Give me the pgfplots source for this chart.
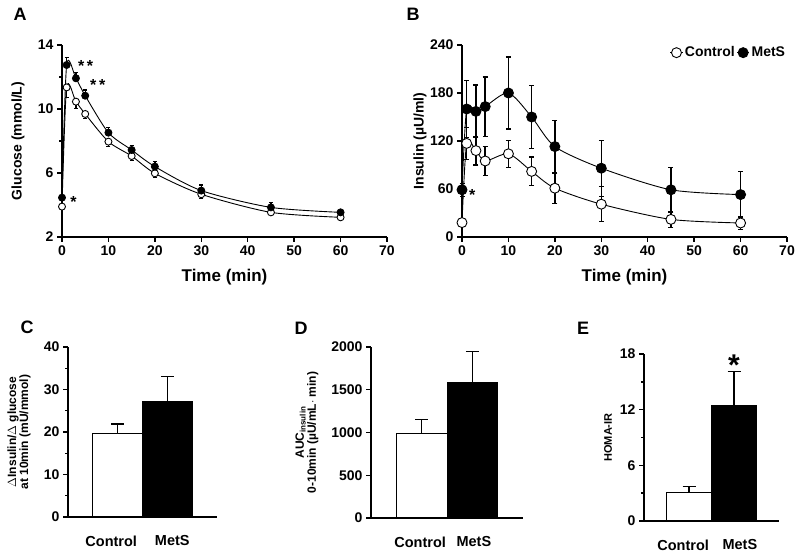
\documentclass[border=0pt]{standalone}
\usepackage{fontspec}
\setmainfont{Liberation Sans}
\usepackage{pgfplots}
\pgfplotsset{compat=1.18}

\newcommand\fs[1]{\fontsize{#1}{#1}\selectfont\bfseries}

\pgfplotsset{
  panel/.style={
    scale only axis,
    axis lines*=left,
    axis line style={line width=1.6pt},
    tick align=outside,
    major tick length=5pt,
    minor tick length=3pt,
    every tick/.style={black, line width=1.4pt},
    /pgf/number format/assume math mode=true,
    /pgf/number format/1000 sep={},
    ticklabel style={font=\fs{14}},
    clip=false,
  },
  curve/.style={black, line width=0.9pt, smooth, tension=0.45, mark=*},
  barpanel/.style={
    panel,
    xmin=0, xmax=3, ymin=0,
    xticklabels={Control, MetS},
    major x tick style={draw=none},
    xticklabel style={font=\fs{14.5}, yshift=-10pt},
    ybar, bar width=1, bar shift=0pt,
    axis line style={line width=1.2pt},
  },
  bardraw/.style={draw=black, line width=1pt,
    error bars/.cd, y dir=plus, y explicit,
    error bar style={line width=1.2pt},
    error mark options={rotate=90, mark size=6.5pt, line width=1.2pt}},
}

\begin{document}
\begin{tikzpicture}
\path[use as bounding box] (0pt,0pt) rectangle (800pt,553pt);

% panel letters
\node[font=\fs{18}] at (20pt,539pt) {A};
\node[font=\fs{18}] at (413pt,539pt) {B};
\node[font=\fs{18}] at (27pt,226pt) {C};
\node[font=\fs{18}] at (301pt,225pt) {D};
\node[font=\fs{18}] at (583pt,225pt) {E};

% A: glucose
\begin{axis}[panel, at={(62pt,316pt)}, anchor=south west,
  width=325pt, height=192pt,
  xmin=0, xmax=70, ymin=2, ymax=14,
  xtick={0,10,...,70}, ytick={2,6,10,14}, minor ytick={4,8,12},
  xlabel={Time (min)}, ylabel={Glucose (mmol/L)},
  xlabel style={font=\fs{17}, at={(axis description cs:0.5,0)}, anchor=center, yshift=-40pt},
  ylabel style={font=\fs{14}, at={(axis description cs:0,0.5)}, anchor=center, yshift=44pt},
]
\addplot[curve, mark size=3.5pt, mark options={fill=white, line width=0.9pt},
  error bars/.cd, y dir=minus, y explicit, error bar style={line width=1.3pt},
  error mark options={rotate=90, mark size=2pt, line width=1.2pt}]
  coordinates {(0,3.90) +- (0,0.10) (1,11.35) +- (0,0.62) (3,10.46) +- (0,0.42)
  (5,9.69) +- (0,0.27) (10,7.96) +- (0,0.30) (15,7.06) +- (0,0.30) (20,5.98) +- (0,0.25)
  (30,4.67) +- (0,0.25) (45,3.54) +- (0,0.15) (60,3.23) +- (0,0.10)};
\addplot[curve, mark size=3.5pt, mark options={fill=black},
  error bars/.cd, y dir=plus, y explicit, error bar style={line width=1.3pt},
  error mark options={rotate=90, mark size=2pt, line width=1.2pt}]
  coordinates {(0,4.46) +- (0,0.10) (1,12.75) +- (0,0.48) (3,11.92) +- (0,0.35)
  (5,10.83) +- (0,0.36) (10,8.52) +- (0,0.33) (15,7.44) +- (0,0.27) (20,6.40) +- (0,0.33)
  (30,4.90) +- (0,0.35) (45,3.85) +- (0,0.30) (60,3.54) +- (0,0.10)};
\node[font=\fs{16}] at (axis cs:5.1,12.7) {*\,*};
\node[font=\fs{16}] at (axis cs:7.7,11.5) {*\,*};
\node[font=\fs{16}] at (axis cs:2.5,4.2) {*};
\end{axis}

% B: insulin
\begin{axis}[panel, at={(462pt,316pt)}, anchor=south west,
  width=325pt, height=192pt,
  xmin=0, xmax=70, ymin=0, ymax=240,
  xtick={0,10,...,70}, ytick={0,60,...,240},
  xlabel={Time (min)}, ylabel={Insulin (µU/ml)},
  xlabel style={font=\fs{17}, at={(axis description cs:0.5,0)}, anchor=center, yshift=-40pt},
  ylabel style={font=\fs{14}, at={(axis description cs:0,0.5)}, anchor=center, yshift=42pt},
  legend style={at={(1.01,0.96)}, anchor=east, draw=none, fill=none,
    legend columns=2, font=\fs{14},
    /tikz/every even column/.style={column sep=0pt}},
  legend image code/.code={\draw[#1, mark repeat=2, mark phase=2]
    plot coordinates {(0pt,0pt) (6pt,0pt) (12pt,0pt)};},
]
\addplot[curve, mark size=5pt, mark options={fill=white, line width=0.9pt},
  error bars/.cd, y dir=both, y explicit, error bar style={line width=1.5pt},
  error mark options={rotate=90, mark size=2.5pt, line width=1.2pt}]
  coordinates {(0,18) +- (0,4) (1,117) +- (0,20) (3,108) +- (0,18)
  (5,95) +- (0,18) (10,104) +- (0,17) (15,82) +- (0,18) (20,61) +- (0,19)
  (30,41) +- (0,22) (45,22) +- (0,10) (60,17.5) +- (0,8)};
\addplot[curve, mark size=5pt, mark options={fill=black},
  error bars/.cd, y dir=both, y explicit, error bar style={line width=1.5pt},
  error mark options={rotate=90, mark size=2.5pt, line width=1.2pt}]
  coordinates {(0,59) +- (0,8) (1,160) +- (0,36) (3,157) +- (0,33)
  (5,163) +- (0,37) (10,180) +- (0,45) (15,150) +- (0,39) (20,113) +- (0,33)
  (30,86) +- (0,35) (45,59) +- (0,28) (60,53) +- (0,29)};
\legend{Control, MetS}
\node[font=\fs{16}] at (axis cs:2.2,53) {*};
\end{axis}

% C
\begin{axis}[barpanel, at={(68pt,36pt)}, anchor=south west,
  width=149pt, height=170pt, ymax=40, xtick={0.87,2.1},
  ytick={0,10,...,40}, minor ytick={5,15,25,35},
  ylabel={$\Delta$Insulin/$\Delta$ glucose\\at 10min (mU/mmol)},
  ylabel style={font=\fs{12}, align=center, at={(axis description cs:0,0.5)}, anchor=center, yshift=49pt},
]
\addplot[fill=white, bardraw] coordinates {(1,19.7) +- (0,2.2)};
\addplot[fill=black, bardraw] coordinates {(2,27.1) +- (0,5.9)};
\end{axis}

% D
\begin{axis}[barpanel, at={(371pt,35pt)}, anchor=south west,
  width=152pt, height=171pt, ymax=2000, xtick={0.97,2.03},
  ytick={0,500,...,2000},
  ylabel={AUC\textsubscript{insulin}\\0-10min (µU/mL$\cdot$ min)},
  ylabel style={font=\fs{12}, align=center, at={(axis description cs:0,0.5)}, anchor=center, yshift=64pt},
]
\addplot[fill=white, bardraw] coordinates {(1,985) +- (0,170)};
\addplot[fill=black, bardraw] coordinates {(2,1590) +- (0,360)};
\end{axis}

% E
\begin{axis}[barpanel, at={(644pt,32pt)}, anchor=south west,
  width=135pt, height=167pt, ymax=18, xtick={0.87,2.13},
  ytick={0,6,12,18}, minor ytick={3,9,15},
  ylabel={HOMA-IR},
  ylabel style={font=\fs{11}, at={(axis description cs:0,0.5)}, anchor=center, yshift=36pt},
]
\addplot[fill=white, bardraw] coordinates {(1,3.1) +- (0,0.6)};
\addplot[fill=black, bardraw] coordinates {(2,12.5) +- (0,3.6)};
\node[font=\fs{30}] at (axis cs:2,16.8) {*};
\end{axis}
\end{tikzpicture}
\end{document}
